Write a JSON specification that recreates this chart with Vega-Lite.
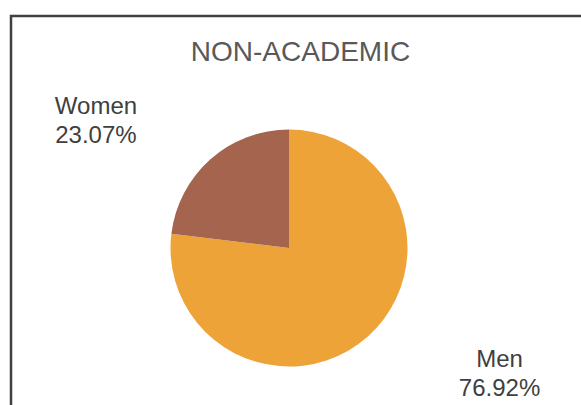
{
  "$schema": "https://vega.github.io/schema/vega-lite/v6.json",
  "width": 575,
  "height": 395,
  "autosize": "none",
  "padding": {"left": 11, "top": 16, "right": -5, "bottom": -6},
  "background": "white",
  "view": {"stroke": "#404040", "strokeWidth": 2.5, "fill": "#ffffff"},
  "config": {
    "view": {"stroke": "#404040", "strokeWidth": 2.5, "fill": "#ffffff"},
    "style": {"cell": {"stroke": "#404040", "strokeWidth": 2.5}},
    "font": "Liberation Sans"
  },
  "title": {
    "text": "NON-ACADEMIC",
    "font": "Liberation Sans",
    "fontSize": 28,
    "fontWeight": "normal",
    "color": "#595959",
    "anchor": "middle",
    "frame": "group",
    "baseline": "alphabetic",
    "offset": 0,
    "dy": 73,
    "dx": 2
  },
  "data": {
    "values": [
      {"group": "Men", "share": 76.92},
      {"group": "Women", "share": 23.07}
    ]
  },
  "transform": [
    {"calculate": "datum.group + '\\n' + format(datum.share, '.2f') + '%'", "as": "label"}
  ],
  "encoding": {
    "theta": {"field": "share", "type": "quantitative", "stack": true},
    "order": {"field": "share", "type": "quantitative", "sort": "descending"},
    "color": {
      "field": "group",
      "type": "nominal",
      "scale": {"domain": ["Men", "Women"], "range": ["#EDA337", "#A5644E"]},
      "legend": null
    }
  },
  "layer": [
    {
      "mark": {
        "type": "arc",
        "radius": 118.5,
        "x": {"expr": "width/2 - 9.5"},
        "y": {"expr": "height/2 + 34.5"}
      }
    },
    {
      "mark": {
        "type": "text",
        "radius": 180,
        "x": {"expr": "width/2 - 9.5"},
        "y": {"expr": "height/2 + 34.5"},
        "dx": {"expr": "datum.group === 'Women' ? -73.7 : 91.2"},
        "dy": {"expr": "datum.group === 'Women' ? 0.8 : -15.8"},
        "align": "center",
        "baseline": "alphabetic",
        "lineBreak": "\n",
        "lineHeight": 29,
        "fontSize": 24,
        "color": "#404040"
      },
      "encoding": {
        "text": {"field": "label", "type": "nominal"},
        "color": {"value": "#404040"}
      }
    }
  ]
}
